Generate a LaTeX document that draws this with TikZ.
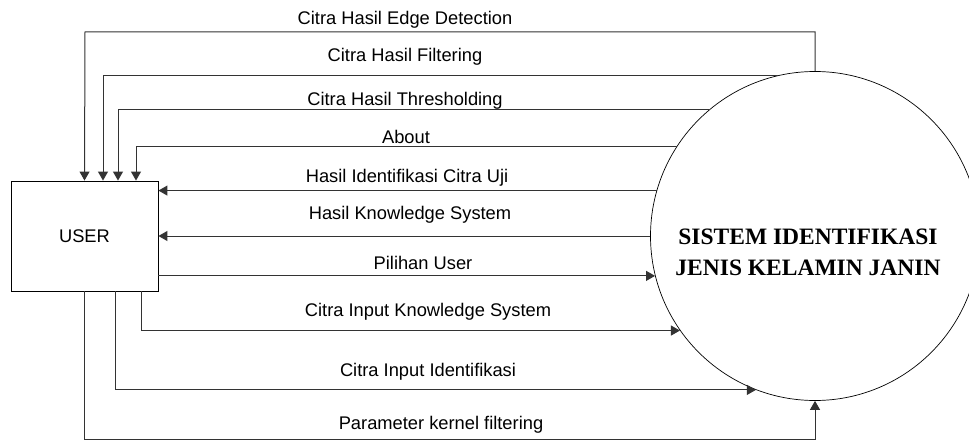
\documentclass[tikz,border=0pt]{standalone}
\usepackage{fontspec}
\setmainfont{Liberation Sans}
\newfontfamily\timesfont{Liberation Serif}
\usetikzlibrary{arrows.meta,positioning}

\begin{document}
\begin{tikzpicture}[x=1pt,y=-1pt,
	flow/.style={draw=black!80,line width=1pt,-{Triangle[length=9pt,width=10pt]}},
	lbl/.style={font=\fontsize{18.3}{22}\selectfont,inner sep=0pt}]
	\useasboundingbox (0,0) rectangle (969,441);
	\clip (0,0) rectangle (969,441);
	
	\node[draw,line width=0.9pt,minimum width=147pt,minimum height=110pt,inner sep=0pt,font=\fontsize{18.3}{22}\selectfont] (user) at (84.5,236) {USER};
	\node[draw,circle,line width=0.7pt,minimum size=329pt,inner sep=0pt] (sys) at (815,236) {};
	\node[align=center,inner sep=0pt,font=\timesfont\bfseries\fontsize{23.5}{31}\selectfont] (title) at (808,252) {SISTEM IDENTIFIKASI\\JENIS KELAMIN JANIN};
	
	\coordinate (ed) at (85,32);
	\coordinate (pk) at (815,439);
	
	\draw[flow] (sys.north) |- (ed) -- (user.north);
	\draw[flow] (sys.103.4) -| ([xshift=18.5pt]user.north);
	\draw[flow] (sys.130.5) -| ([xshift=33.5pt]user.north);
	\draw[flow] (sys.147.7) -| ([xshift=51.5pt]user.north);
	\draw[flow] (sys.164.5) -- (sys.164.5 -| user.east);
	\draw[flow] (sys.west) -- (user.east);
	\draw[flow] (sys.194.8 -| user.east) -- (sys.194.8);
	\draw[flow] ([xshift=56.5pt]user.south) |- (sys.215.3);
	\draw[flow] ([xshift=30.5pt]user.south) |- (sys.249.4);
	\draw[flow] (user.south) |- (pk) -- (sys.south);
	
	\node[lbl] (l1) at (405,20) {Citra Hasil Edge Detection};
	\node[lbl] (l2) at (405,57) {Citra Hasil Filtering};
	\node[lbl] (l3) at (405,101) {Citra Hasil Thresholding};
	\node[lbl] (l4) at (406,137) {About};
	\node[lbl] (l5) at (407,178) {Hasil Identifikasi Citra Uji};
	\node[lbl] (l6) at (410,215) {Hasil Knowledge System};
	\node[lbl] (l7) at (423,263) {Pilihan User};
	\node[lbl] (l8) at (428,312) {Citra Input Knowledge System};
	\node[lbl] (l9) at (428,372) {Citra Input Identifikasi};
	\node[lbl] (l10) at (441,425) {Parameter kernel filtering};
\end{tikzpicture}
\end{document}
